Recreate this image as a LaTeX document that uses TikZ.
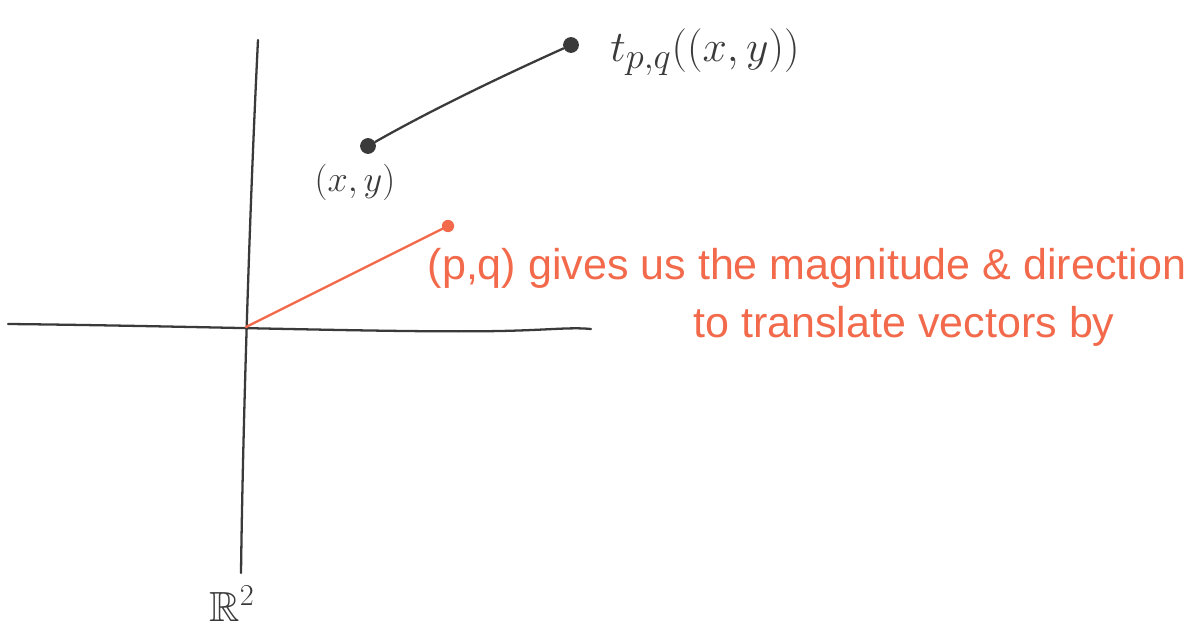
\documentclass[tikz,border=0pt]{standalone}
\usepackage{amssymb}
\usepackage{fontspec}
\setmainfont{Liberation Sans}
\definecolor{ink}{HTML}{3A3A3A}
\definecolor{pen}{HTML}{F26A4B}
\begin{document}
\begin{tikzpicture}[x=0.02cm,y=-0.02cm,
  axis/.style={draw=ink,line width=1.3pt,line cap=round},
  vecline/.style={line width=1.3pt,line cap=round},
  blackdot/.style={circle,fill=ink,inner sep=0pt,minimum size=9pt},
  reddot/.style={circle,fill=pen,inner sep=0pt,minimum size=7pt},
  lbl/.style={text=ink,inner sep=0pt},
  note/.style={text=pen,inner sep=0pt,font=\fontsize{24.5}{28}\selectfont}]
\useasboundingbox (0,0) rectangle (1191,632);
% axes
\coordinate (vtop) at (258,40);
\coordinate (vbot) at (241,573);
\coordinate (hl) at (8,324);
\coordinate (hr) at (591,329);
\coordinate (o) at (246,327);
\draw[axis] (vtop) .. controls (250,200) and (243,420) .. (vbot);
\draw[axis] (hl) .. controls (200,326) and (400,333) .. (500,331) .. controls (550,330) and (570,327) .. (hr);
% orange vector
\node[reddot] (pq) at (448,226) {};
\draw[vecline,draw=pen] (o) -- (pq);
% translated point
\node[blackdot] (xy) at (368,146) {};
\node[blackdot] (t) at (571,45) {};
\draw[vecline,draw=ink] (xy) .. controls (440,105) and (520,68) .. (t);
% labels
\node[lbl,font=\fontsize{32}{36}\selectfont] (tl) at (705,52) {$t_{p,q}((x,y))$};
\node[lbl,font=\fontsize{22}{26}\selectfont] (xyl) at (355,182) {$(x,y)$};
\node[lbl,font=\fontsize{24}{28}\selectfont] (r2) at (232,604) {$\mathbb{R}^2$};
\node[note] (n1) at (807,268) {(p,q) gives us the magnitude \& direction};
\node[note] (n2) at (904,326) {to translate vectors by};
\end{tikzpicture}
\end{document}
